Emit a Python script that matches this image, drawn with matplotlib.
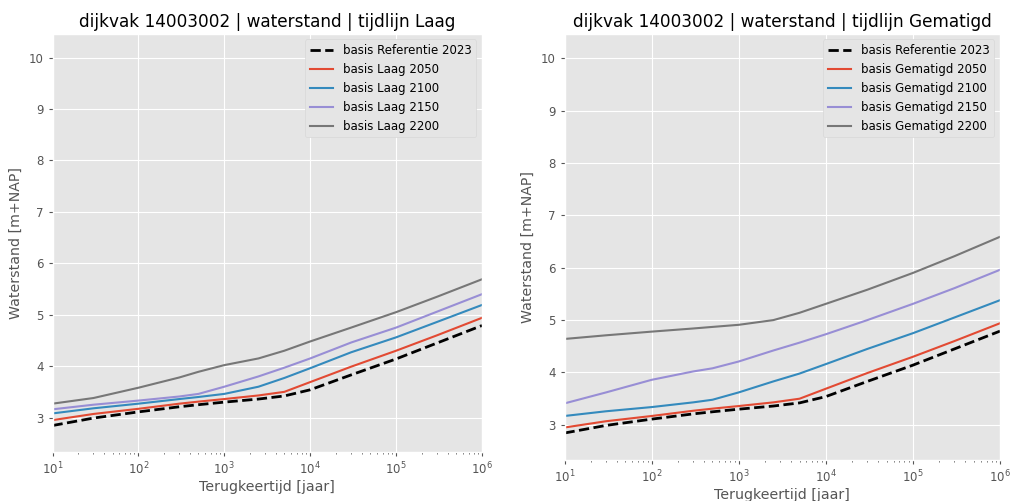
import matplotlib
matplotlib.use("Agg")
import matplotlib.pyplot as plt

plt.style.use("ggplot")
plt.rcParams.update({
    "font.size": 8.5,
    "axes.titlesize": 12.2,
    "axes.labelsize": 10.2,
    "xtick.labelsize": 8.5,
    "ytick.labelsize": 8.5,
    "legend.fontsize": 8.5,
})

# Return periods (years) at which water levels are tabulated
return_period = [10, 30, 100, 300, 500, 1000, 2500, 5000, 10000, 30000, 100000, 300000, 1000000]

# Reference situation 2023 [m+NAP]
ref_2023 = [2.845, 2.99, 3.11, 3.21, 3.25, 3.30, 3.36, 3.42, 3.54, 3.83, 4.14, 4.45, 4.79]

# Timeline "Laag"
laag_2050 = [2.95, 3.07, 3.17, 3.27, 3.31, 3.36, 3.43, 3.50, 3.69, 3.99, 4.30, 4.60, 4.94]
laag_2100 = [3.08, 3.18, 3.27, 3.36, 3.40, 3.46, 3.60, 3.77, 3.96, 4.27, 4.56, 4.86, 5.19]
laag_2150 = [3.16, 3.25, 3.33, 3.41, 3.46, 3.60, 3.80, 3.97, 4.15, 4.46, 4.75, 5.06, 5.40]
laag_2200 = [3.27, 3.38, 3.58, 3.78, 3.89, 4.02, 4.15, 4.30, 4.48, 4.75, 5.05, 5.35, 5.69]

# Timeline "Gematigd"
gem_2050 = [2.95, 3.07, 3.17, 3.27, 3.31, 3.36, 3.43, 3.50, 3.69, 3.99, 4.30, 4.60, 4.94]
gem_2100 = [3.17, 3.26, 3.34, 3.43, 3.48, 3.62, 3.83, 3.98, 4.16, 4.45, 4.75, 5.05, 5.38]
gem_2150 = [3.41, 3.62, 3.86, 4.02, 4.08, 4.21, 4.42, 4.57, 4.73, 5.00, 5.31, 5.61, 5.96]
gem_2200 = [4.64, 4.71, 4.78, 4.84, 4.87, 4.91, 5.00, 5.14, 5.31, 5.58, 5.90, 6.22, 6.59]

years = [2050, 2100, 2150, 2200]
timelines = {
    "Laag": [laag_2050, laag_2100, laag_2150, laag_2200],
    "Gematigd": [gem_2050, gem_2100, gem_2150, gem_2200],
}
colors = ["#E24A33", "#348ABD", "#988ED5", "#777777"]

fig = plt.figure(figsize=(10.13, 5.01), dpi=100)
W, H = 1013, 501
boxes = {
    "Laag": (52.5, 33.5, 482, 452),
    "Gematigd": (564.5, 33.5, 1000, 460),
}

for name, series in timelines.items():
    x0, y0, x1, y1 = boxes[name]
    ax = fig.add_axes([x0 / W, 1 - y1 / H, (x1 - x0) / W, (y1 - y0) / H])
    ax.plot(return_period, ref_2023, "--", color="black", lw=2,
            label="basis Referentie 2023")
    for yr, vals, c in zip(years, series, colors):
        ax.plot(return_period, vals, color=c, lw=1.5, label=f"basis {name} {yr}")
    ax.set_xscale("log")
    ax.set_xlim(10, 1e6)
    ax.set_ylim(2.33, 10.47)
    ax.set_yticks([3, 4, 5, 6, 7, 8, 9, 10])
    ax.tick_params(which="major", length=3, color="#555555")
    ax.tick_params(which="minor", length=1.5, color="#555555")
    ax.set_title(f"dijkvak 14003002 | waterstand | tijdlijn {name}", pad=5)
    ax.set_xlabel("Terugkeertijd [jaar]", labelpad=2)
    ax.set_ylabel("Waterstand [m+NAP]")
    leg = ax.legend(loc="upper right", facecolor="#E5E5E5", edgecolor="#D8D8D8",
                    framealpha=1.0, handlelength=2.0)

fig.savefig("out.png", dpi=100)
